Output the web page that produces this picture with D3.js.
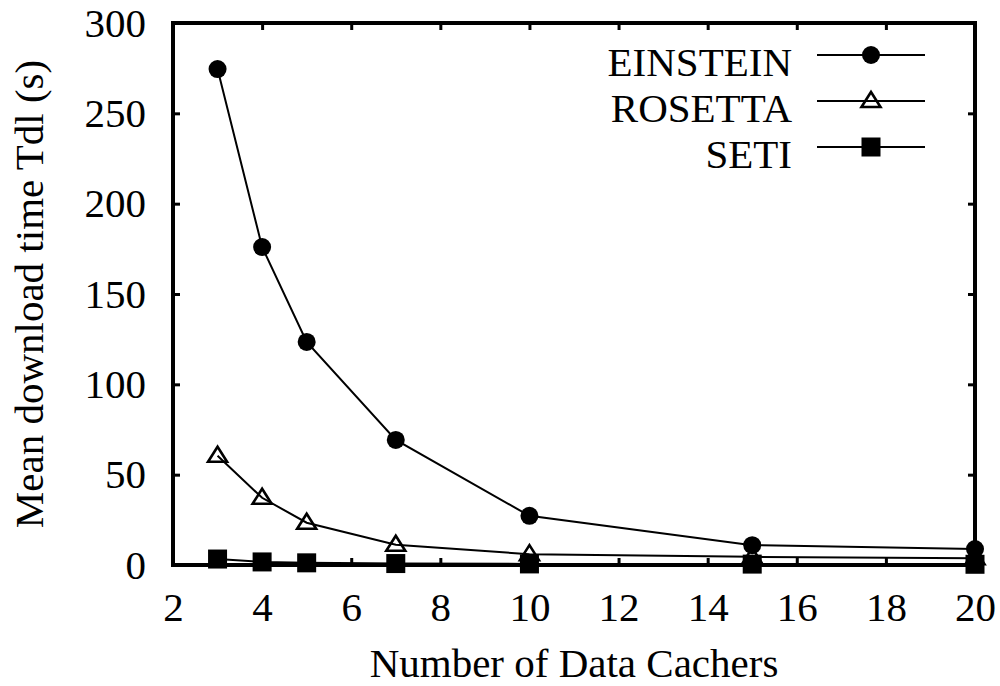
<!DOCTYPE html>
<html>
<head>
<meta charset="utf-8">
<script src="https://cdn.jsdelivr.net/npm/d3@7/dist/d3.min.js"></script>
</head>
<body style="margin:0">
<svg id="chart" width="1000" height="686" font-family="serif"></svg>
<script>
// ---- data ----
const cachers = [3, 4, 5, 7, 10, 15, 20];
const einstein = [274.5, 176, 123.5, 69.2, 27.2, 11, 8.8];
const rosetta = [60.5, 37.2, 23.4, 11.2, 6.0, 4.5, 3.8];
const seti = [3.3, 1.7, 1.2, 0.8, 0.6, 0.5, 0.4];
const seriesNames = ["EINSTEIN", "ROSETTA", "SETI"];
const xTicks = [2, 4, 6, 8, 10, 12, 14, 16, 18, 20];
const yTicks = [0, 50, 100, 150, 200, 250, 300];
const xTitle = "Number of Data Cachers";
const yTitle = "Mean download time Tdl (s)";

// ---- layout ----
const pLeft = 173, pRight = 975, pTop = 23, pBottom = 565;
const fontSize = 41;
const TEXT_STYLE = "font-family:'Liberation Serif',serif;font-size:" + fontSize + "px";
const svg = d3.select("#chart");

const x = d3.scaleLinear().domain([2, 20]).range([pLeft, pRight]);
const y = d3.scaleLinear().domain([0, 300]).range([pBottom, pTop]);

function styleText(sel) {
  sel.attr("font-family", "serif").attr("style", TEXT_STYLE).attr("fill", "#000");
}

// axes (ticks inward, mirrored)
function styleAxis(g) {
  g.attr("font-family", "serif").attr("font-size", fontSize);
  g.select(".domain").remove();
  g.selectAll(".tick line").attr("stroke", "#000").attr("stroke-width", 3);
  g.selectAll(".tick text").call(styleText);
}
svg.append("g").attr("transform", `translate(0,${pBottom})`)
  .call(d3.axisBottom(x).tickValues(xTicks).tickSize(-7).tickPadding(27).tickFormat(d3.format("d")))
  .call(styleAxis);
svg.append("g").attr("transform", `translate(0,${pTop})`)
  .call(d3.axisTop(x).tickValues(xTicks).tickSize(-7).tickFormat(""))
  .call(styleAxis);
svg.append("g").attr("transform", `translate(${pLeft},0)`)
  .call(d3.axisLeft(y).tickValues(yTicks).tickSize(-7).tickPadding(27).tickFormat(d3.format("d")))
  .call(styleAxis);
svg.append("g").attr("transform", `translate(${pRight},0)`)
  .call(d3.axisRight(y).tickValues(yTicks).tickSize(-7).tickFormat(""))
  .call(styleAxis);

// titles
svg.append("text")
  .attr("x", (pLeft + pRight) / 2).attr("y", 677)
  .attr("text-anchor", "middle").call(styleText)
  .text(xTitle);
svg.append("text")
  .attr("transform", `translate(43,${(pTop + pBottom) / 2}) rotate(-90)`)
  .attr("text-anchor", "middle").call(styleText)
  .text(yTitle);

// markers
function drawMarker(g, type, cx, cy) {
  if (type === 0) {
    g.append("circle").attr("cx", cx).attr("cy", cy).attr("r", 9).attr("fill", "#000");
  } else if (type === 1) {
    const h = 15, w = 19;
    g.append("path")
      .attr("d", `M${cx},${cy - h * 0.6}L${cx + w / 2},${cy + h * 0.4}L${cx - w / 2},${cy + h * 0.4}Z`)
      .attr("fill", "none").attr("stroke", "#000").attr("stroke-width", 2.6)
      .attr("stroke-linejoin", "miter");
  } else {
    g.append("rect").attr("x", cx - 9.5).attr("y", cy - 9.5).attr("width", 19).attr("height", 19).attr("fill", "#000");
  }
}

const allSeries = [einstein, rosetta, seti];
const line = d3.line().x((d, i) => x(cachers[i])).y(d => y(d));
const plotG = svg.append("g");
allSeries.forEach((vals, s) => {
  plotG.append("path").datum(vals)
    .attr("d", line).attr("fill", "none").attr("stroke", "#000").attr("stroke-width", 2);
  vals.forEach((v, i) => drawMarker(plotG, s, x(cachers[i]), y(v)));
});

// frame
svg.append("rect")
  .attr("x", pLeft).attr("y", pTop).attr("width", pRight - pLeft).attr("height", pBottom - pTop)
  .attr("fill", "none").attr("stroke", "#000").attr("stroke-width", 4);

// legend
const legRows = [55, 101, 147];
const legG = svg.append("g");
seriesNames.forEach((name, s) => {
  const ry = legRows[s];
  legG.append("text").attr("x", 792).attr("y", ry + 21)
    .attr("text-anchor", "end").call(styleText).text(name);
  legG.append("line").attr("x1", 817).attr("x2", 925).attr("y1", ry).attr("y2", ry)
    .attr("stroke", "#000").attr("stroke-width", 2);
  drawMarker(legG, s, 871, ry);
});
</script>
</body>
</html>
